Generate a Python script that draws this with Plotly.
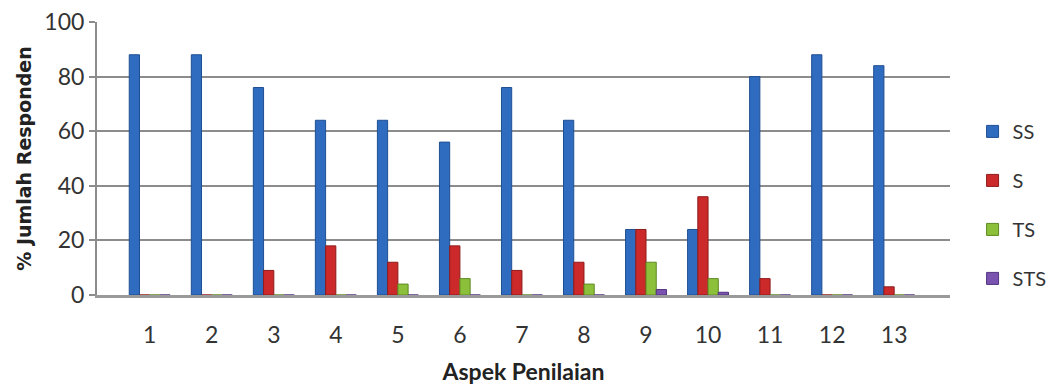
import plotly.graph_objects as go

# Aspek penilaian 1..13 and response percentages per category
aspek = ["1", "2", "3", "4", "5", "6", "7", "8", "9", "10", "11", "12", "13"]
ss = [88, 88, 76, 64, 64, 56, 76, 64, 24, 24, 80, 88, 84]
s = [0, 0, 9, 18, 12, 18, 9, 12, 24, 36, 6, 0, 3]
ts = [0, 0, 0, 0, 4, 6, 0, 4, 12, 6, 0, 0, 0]
sts = [0, 0, 0, 0, 0, 0, 0, 0, 2, 1, 0, 0, 0]

series = [
    ("SS", ss, "#2F6CC0", "#1F4F93"),
    ("S", s, "#CC2A2A", "#8E1B1B"),
    ("TS", ts, "#8CBF3A", "#5E8A22"),
    ("STS", sts, "#7A52B0", "#523580"),
]

fig = go.Figure()
for name, vals, color, edge in series:
    fig.add_trace(go.Bar(
        x=list(range(len(aspek))),
        y=vals,
        name=name,
        legendgroup=name,
        marker=dict(color=color, line=dict(color=edge, width=1)),
    ))

FONT = "Lato, 'Open Sans', sans-serif"

fig.update_layout(
    width=1056,
    height=385,
    margin=dict(l=97, r=106, t=22, b=90, autoexpand=False),
    paper_bgcolor="white",
    plot_bgcolor="white",
    barmode="group",
    bargap=0.34,
    bargroupgap=0.0,
    font=dict(family=FONT, color="#333333", size=20),
    legend=dict(
        x=0.921, xanchor="left", xref="container",
        y=0.33, yanchor="middle",
        font=dict(size=20, color="#333333"),
        tracegroupgap=20,
        itemwidth=30,
        bgcolor="rgba(0,0,0,0)",
    ),
    xaxis=dict(
        tickmode="array",
        tickvals=list(range(len(aspek))),
        ticktext=aspek,
        range=[-0.85, 12.9],
        showgrid=False,
        zeroline=False,
        showline=True,
        linecolor="#9A9A9A",
        linewidth=3,
        ticks="",
        ticklabelstandoff=17,
        automargin=False,
        tickfont=dict(size=23, color="#333333"),
        title=dict(text="<b>Aspek Penilaian</b>", font=dict(size=23, color="#222222"), standoff=26),
    ),
    yaxis=dict(
        range=[0, 100],
        tickvals=[0, 20, 40, 60, 80, 100],
        showgrid=True,
        gridcolor="#8C8C8C",
        gridwidth=2,
        zeroline=False,
        showline=True,
        linecolor="#8C8C8C",
        linewidth=2,
        ticks="outside",
        ticklen=6,
        tickcolor="#8C8C8C",
        tickwidth=2,
        automargin=False,
        tickfont=dict(size=23, color="#333333"),
        title=dict(text="<b>% Jumlah Responden</b>",
                   font=dict(family="'DejaVu Sans', sans-serif", size=19, color="#222222"),
                   standoff=8),
    ),
)

fig.write_html("out.html")
